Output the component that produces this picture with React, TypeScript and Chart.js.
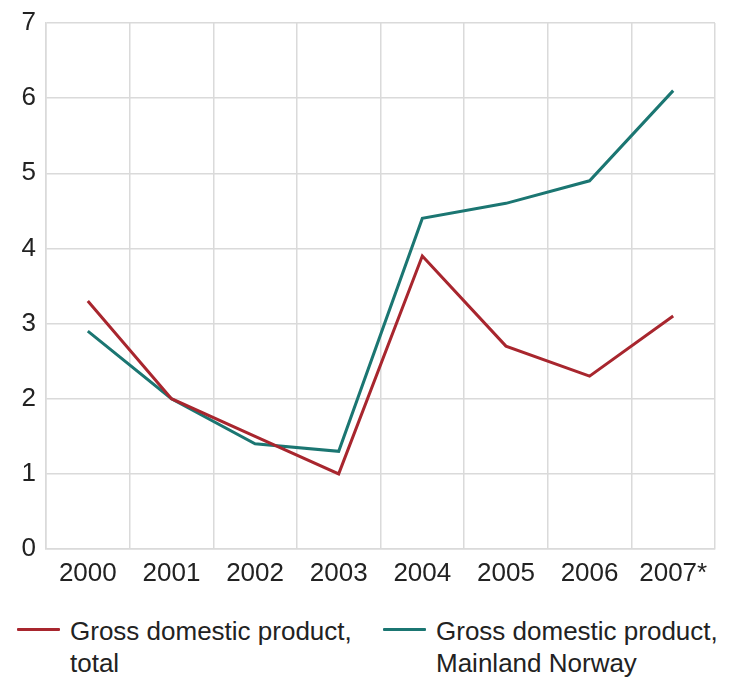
import React, { useEffect, useRef } from "react";
import { Chart, registerables } from "chart.js";

Chart.register(...registerables);

const categories = ["2000", "2001", "2002", "2003", "2004", "2005", "2006", "2007*"];
const gdpTotal = [3.3, 2.0, 1.5, 1.0, 3.9, 2.7, 2.3, 3.1];
const gdpMainland = [2.9, 2.0, 1.4, 1.3, 4.4, 4.6, 4.9, 6.1];
const yTicks = [0, 1, 2, 3, 4, 5, 6, 7];
const seriesLabels = [
  ["Gross domestic product,", "total"],
  ["Gross domestic product,", "Mainland Norway"],
];

const RED = "#a8262e";
const TEAL = "#1b7672";
const GRID = "#dadada";
const FONT = "'Liberation Sans', Arial, sans-serif";

export default function App() {
  const ref = useRef<HTMLCanvasElement | null>(null);

  useEffect(() => {
    if (!ref.current) return;
    const chart = new Chart(ref.current, {
      type: "line",
      data: {
        labels: categories,
        datasets: [
          {
            label: seriesLabels[0].join(" "),
            data: gdpTotal,
            borderColor: RED,
            backgroundColor: RED,
            borderWidth: 3,
            pointRadius: 0,
            tension: 0,
          },
          {
            label: seriesLabels[1].join(" "),
            data: gdpMainland,
            borderColor: TEAL,
            backgroundColor: TEAL,
            borderWidth: 3,
            pointRadius: 0,
            tension: 0,
          },
        ],
      },
      options: {
        animation: false,
        responsive: false,
        devicePixelRatio: 1,
        layout: { padding: { top: 15, right: 8, left: 0, bottom: 0 } },
        plugins: { legend: { display: false }, tooltip: { enabled: false } },
        scales: {
          x: {
            offset: true,
            grid: { offset: true, color: GRID, lineWidth: 1.5, drawTicks: false },
            border: { color: GRID, width: 1.5 },
            ticks: { color: "#222", font: { family: FONT, size: 26 }, padding: 9, maxRotation: 0 },
            afterFit: (s: any) => { s.height = 49; s.paddingLeft = 0; s.paddingRight = 0; },
          },
          y: {
            min: 0,
            max: 7,
            afterBuildTicks: (s: any) => { s.ticks = yTicks.map((v) => ({ value: v })); },
            grid: { color: GRID, lineWidth: 1.5, drawTicks: false },
            border: { color: GRID, width: 1.5 },
            ticks: { color: "#222", font: { family: FONT, size: 26 }, padding: 10 },
            afterFit: (s: any) => { s.width = 38; s.paddingTop = 0; s.paddingBottom = 0; },
          },
        },
      },
    });
    return () => chart.destroy();
  }, []);

  const legendItem = (left: number, color: string, lines: string[]) => (
    <div style={{ position: "absolute", left, top: 0, display: "flex", alignItems: "flex-start" }}>
      <div style={{ width: 43, height: 3, background: color, marginTop: 13, marginRight: 10, borderRadius: 1 }} />
      <div style={{ fontFamily: FONT, fontSize: 26, lineHeight: "32px", color: "#222" }}>
        {lines.map((l, i) => (
          <div key={i}>{l}</div>
        ))}
      </div>
    </div>
  );

  return (
    <div style={{ width: 715 }}>
      <canvas ref={ref} width={715} height={590} style={{ display: "block" }} />
      <div style={{ position: "relative", height: 70, marginTop: 17 }}>
        {legendItem(9, RED, seriesLabels[0])}
        {legendItem(375, TEAL, seriesLabels[1])}
      </div>
    </div>
  );
}
